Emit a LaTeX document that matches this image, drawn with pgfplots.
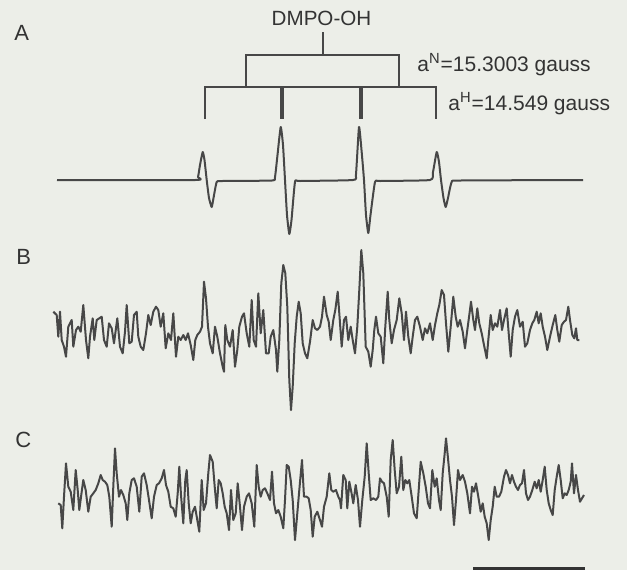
\documentclass[border=0pt]{standalone}
\usepackage{pgfplots}
\pgfplotsset{compat=1.18}
\usepackage{fontspec}
\setmainfont{Liberation Sans}
\definecolor{paper}{HTML}{ECEEE8}
\definecolor{ink}{HTML}{474747}
\definecolor{txt}{HTML}{333333}
\begin{document}
\begin{tikzpicture}
\begin{axis}[x=0.5pt, y=0.5pt, xmin=0, xmax=627, ymin=0, ymax=570, y dir=reverse,
  axis lines=none, clip=false, ticks=none]
\fill[paper] (axis cs:0,0) rectangle (axis cs:627,570);
% trace A
\addplot[ink, line width=1pt, line join=round, smooth, tension=0.3] coordinates {
(57,180) (195,180) (198,177) (200,165) (202.7,152) (204.5,160) (206.7,180) (209,198) (211.7,207) (213.5,198) (216.7,182) (222,181)
(272,180.5) (275,177) (277.5,155) (280.7,127) (283,145) (285,180) (287,215) (289.3,234) (291.5,220) (295,182) (300,181)
(353,180) (356,174) (359,127) (361.5,150) (364,180) (366,215) (368.3,233) (370.5,215) (375,182) (380,181)
(430,180) (433,172) (436.7,152) (439,162) (441,180) (443.5,198) (445.7,207) (448,198) (451.7,182) (460,180.5) (583,180)
};
% trace B
\addplot[ink, line width=1pt, line join=round] coordinates {
(53.3,311.7) (56.7,315) (58.3,336.7) (60,311.7) (61.7,340) (64,346.7) (66,356.7) (68.3,326.7) (71.7,320) (73.3,346.7)
(76,330) (78.3,326.7) (80.7,331.7) (83.3,305) (86,340) (88.3,358.3) (90,336.7) (92.7,318.3) (94.3,340) (96.7,320)
(99.3,318.3) (101.7,316.7) (104,340) (106.7,346.7) (109,323.3) (111.7,328.3) (114,343.3) (117.3,318.3) (120,346.7) (122.7,353.3)
(125,331.7) (126.7,305) (129.3,343.3) (131.7,341.7) (134,315) (136.7,311.7) (138.3,336.7) (140.7,346.7) (143.3,350) (146,333.3)
(148.3,315) (150.7,325) (153.3,311.7) (156,306.7) (158.3,310) (160.7,326.7) (163.3,313.3) (165.7,348.3) (168.3,333.3) (171,340)
(173.3,313.3) (176,356.7) (178.3,336.7) (180.7,340) (183.3,335) (185.7,340) (188,333.3) (190.7,345) (193.3,360) (195.3,340)
(197.3,335) (200,331.7) (202,326.7) (204,281.7) (206,298.3) (208,326.7) (210,343.3) (212.7,353.3) (215,326.7) (217.3,336.7)
(220,353.3) (222.7,366.7) (224,371.7) (225.3,325) (227.3,340) (230,346.7) (232.7,330) (235,366.7) (237.3,350) (239.3,326.7)
(242,316.7) (244,313.3) (246.7,333.3) (249.3,346.7) (251.7,300) (253.7,340) (256,346.7) (258.3,293.3) (260.7,333.3) (263.3,310)
(266,353.3) (268.7,353.3) (270.7,336.7) (273.3,330) (276,350) (277.3,371.7) (279.3,340) (281.3,283.3) (283.3,265) (285.3,273.3)
(287.3,306.7) (289.3,380) (291,410) (292.7,386.7) (294.7,343.3) (296.7,316.7) (298.7,301.7) (300.7,313.3) (302.7,343.3) (305,353.3)
(307.3,358.3) (310,341.7) (312.7,320) (315,328.3) (317.3,330) (320,326.7) (322,316.7) (324,296.7) (326.7,315) (328.7,321.7)
(330.7,340) (333.3,320) (335.3,310) (337.7,291.7) (339.3,313.3) (341.7,346.7) (344,320) (346,316.7) (348.3,340) (350.7,326.7)
(352.7,340) (355,353.3) (357.3,326.7) (359.3,290) (361.3,250) (363.3,273.3) (365.7,346.7) (368.3,351.7) (370.7,366.7) (372.7,350)
(374.3,330) (376,316.7) (378.3,333.3) (380.7,336.7) (383.3,363.3) (385.3,326.7) (387.7,291.7) (389.3,320) (391.7,343.3) (394,330)
(396.7,320) (399.3,298.3) (401.7,313.3) (404,340) (406,311.7) (408.3,336.7) (410.7,353.3) (412.7,336.7) (415,320) (417.3,316.7)
(420,326.7) (422.7,340) (425,328.3) (427.3,333.3) (430,323.3) (432.7,340) (435,325) (437.3,313.3) (439.3,305) (441.7,290)
(444,295) (446,323.3) (448.3,351.7) (450.7,326.7) (453.3,296.7) (455.7,316.7) (457.7,326.7) (460,320) (462.7,331.7) (465,348.3)
(467.3,330) (469.3,315) (471,301.7) (473.3,320) (475,330) (477.3,308.3) (479.3,323.3) (481.7,333.3) (484,345) (486.7,358.3)
(488.3,340) (490.7,315) (492.7,330) (495,323.3) (497.3,326.7) (500,310) (502,330) (504,320) (506.7,308.3) (508.7,333.3)
(510.7,356.7) (512.7,330) (515,316.7) (517.3,310) (520,326.7) (522.7,321.7) (525,346.7) (527.3,343.3) (530,330) (532.3,323.3)
(534.3,320) (536.7,311.7) (538.7,323.3) (540.7,313.3) (542.7,326.7) (545,336.7) (547.3,350) (550,336.7) (552.7,325) (555.3,315)
(557.3,330) (559.3,341.7) (561.7,325) (564,321.7) (566,320) (568.3,306.7) (570,320) (572.3,335) (574.3,338.3) (576,328.3)
(577.3,340) (579.3,340)
};
% trace C
\addplot[ink, line width=1pt, line join=round] coordinates {
(58.3,503.3) (60.7,505) (62.3,528.3) (64,496.7) (66,463.3) (68.3,486.7) (70.7,491.7) (73.3,510) (75.7,470) (77.7,490)
(79.3,510) (81.7,491.7) (83.3,480) (85.7,490) (88.3,511.7) (90.7,496.7) (93.3,493.3) (95.7,490) (98.3,483.3) (100.7,475)
(102.7,480) (105,481.7) (107.3,485) (109.3,496.7) (111.7,526.7) (113.3,486.7) (115,448.3) (116.7,473.3) (119,496.7) (121,490)
(123.3,495) (125.7,503.3) (127.3,520) (129.3,493.3) (131.7,480) (134,478.3) (136.7,486.7) (139.3,511.7) (141.7,476.7) (144,473.3)
(146.7,485) (149,500) (151.7,518.3) (154,496.7) (156.7,485) (159,483.3) (161.7,478.3) (164,470) (166,485) (168.3,491.7)
(170.7,506.7) (173.3,508.3) (175.7,516.7) (177.7,493.3) (179.3,466.7) (181,495) (183.3,523.3) (185.3,480) (186.7,470) (188.7,503.3)
(190.7,523.3) (192.7,511.7) (195,506.7) (197.3,520) (199.3,531.7) (201.7,480) (203.7,510) (206,503.3) (208.3,473.3) (210,455)
(212.7,461.7) (214.7,486.7) (216.7,508.3) (218.7,480) (220.7,483.3) (222.7,493.3) (224.7,506.7) (226.7,513.3) (229,530) (231,490)
(233.3,520) (235.7,513.3) (237.7,483.3) (240,506.7) (242,530) (244,506.7) (246.7,496.7) (249,493.3) (251.7,503.3) (254.3,526.7)
(256.7,465) (258.7,486.7) (260.7,496.7) (262.7,490) (265,488.3) (267.3,493.3) (270,500) (272,471.7) (274,503.3) (276,513.3)
(278.3,510) (280.7,516.7) (283.3,528.3) (285,500) (286.7,465) (288.7,466.7) (290.7,480) (292.7,500) (295,540) (297.3,513.3)
(299.3,490) (302,460) (304,496.7) (306.7,496.7) (308.7,498.3) (310.7,510) (312.7,536.7) (314.7,516.7) (317.3,511.7) (320,520)
(322,526.7) (324,506.7) (326.7,496.7) (329.3,473.3) (331.3,490) (333.3,491.7) (336,490) (338.3,496.7) (340,500)
(341,508.3) (343.3,475) (345.7,480) (347.3,508.3) (349.3,481.7) (351.3,491.7) (353.3,503.3) (355.7,485) (358,500) (360,526.7)
(362.3,500) (364.7,476.7) (366.7,443.3) (368.7,473.3) (370.7,500) (373.3,498.3) (376,500) (378.3,496.7) (380,478.3) (382,481.7)
(384,483.3) (386.7,496.7) (388.7,516.7) (390.7,460) (392.7,440) (394.7,470) (396.7,493.3) (399,486.7) (401.3,456.7) (403.3,490)
(405.3,480) (407.3,483.3) (409.3,480) (411.7,496.7) (414,513.3) (416.7,518.3) (418.7,490) (420.7,461.7) (423.3,473.3) (425.7,486.7)
(428,503.3) (430,508.3) (432.3,470) (434.7,486.7) (436.7,478.3) (439,500) (440.7,510) (442.7,473.3) (444.7,453.3) (446,438.3)
(448,458.3) (450,480) (452,496.7) (454,525) (456,500) (458,470) (460,480) (462.7,475) (465,481.7) (467.3,493.3)
(470,513.3) (472,486.7) (474,491.7) (476,483.3) (478.3,496.7) (480.7,511.7) (482.7,503.3) (484.7,516.7) (486.7,523.3) (488.7,540)
(490.7,520) (492.7,506.7) (494.7,486.7) (496.7,496.7) (499,496.7) (501.3,491.7) (504,476.7) (506,470) (508,475) (510,483.3)
(512,475) (514,481.7) (516,486.7) (518,490) (520,485) (522,483.3) (524,470) (526,493.3) (528,500) (530,496.7)
(532.3,490) (534.7,481.7) (536.7,488.3) (538.7,480) (540.7,491.7) (542.7,480) (544.7,466.7) (546.7,490) (548.7,503.3) (550.7,510)
(552.7,515) (554.7,490) (556.7,476.7) (558.7,465) (560.7,480) (562.7,498.3) (564.7,493.3) (566.7,495) (568.7,490) (570.7,481.7)
(572,463.3) (574,493.3) (576,475) (578,490) (580,501.7) (582,498.3) (584,495)
};
% splitting tree
\addplot[ink, line width=1.2pt] coordinates {(323,32) (323,55)};
\addplot[ink, line width=1.2pt] coordinates {(246,87) (246,55) (399,55) (399,87)};
\addplot[ink, line width=1.2pt] coordinates {(205,119) (205,87) (436,87) (436,119)};
\addplot[ink, line width=2.2pt] coordinates {(282,87) (282,119)};
\addplot[ink, line width=2.2pt] coordinates {(361,87) (361,119)};
% scale bar
\addplot[txt, line width=1.6pt] coordinates {(473,568.4) (585,568.4)};
% labels
\node[anchor=base west, inner sep=0, font=\fontsize{11}{13}\selectfont, text=txt] at (axis cs:14,40) {A};
\node[anchor=base west, inner sep=0, font=\fontsize{11}{13}\selectfont, text=txt] at (axis cs:16,264) {B};
\node[anchor=base west, inner sep=0, font=\fontsize{11}{13}\selectfont, text=txt] at (axis cs:15,447) {C};
\node[anchor=base, inner sep=0, font=\fontsize{10.3}{12}\selectfont, text=txt] at (axis cs:321.5,25) {DMPO-OH};
\node[anchor=base west, inner sep=0, font=\fontsize{10.5}{12}\selectfont, text=txt] at (axis cs:417,71) {a$^{\mathrm{N}}$=15.3003 gauss};
\node[anchor=base west, inner sep=0, font=\fontsize{10.5}{12}\selectfont, text=txt] at (axis cs:448,110) {a$^{\mathrm{H}}$=14.549 gauss};
\end{axis}
\end{tikzpicture}
\end{document}
